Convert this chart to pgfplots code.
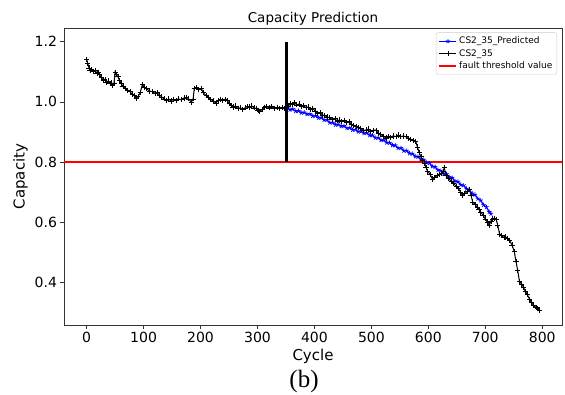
\documentclass[border=0pt]{standalone}
\usepackage{fontspec}
\setmainfont{DejaVu Sans}
\newfontfamily\capfont{Liberation Serif}
\usepackage{pgfplots}
\pgfplotsset{compat=1.18}
\begin{document}
\begin{tikzpicture}
\begin{axis}[
 scale only axis, width=498pt, height=297pt,
 xmin=-39.75, xmax=834.75, ymin=0.26, ymax=1.245,
 xtick={0,100,...,800}, ytick={0.4,0.6,0.8,1.0,1.2},
 yticklabels={0.4,0.6,0.8,1.0,1.2},
 /pgf/number format/assume math mode=true,
 tick align=outside, tick pos=left, major tick length=3.5pt,
 tick style={black!80, line width=0.6pt},
 ticklabel style={font=\fontsize{14}{16}\selectfont},
 xlabel={Cycle}, ylabel={Capacity},
 label style={font=\fontsize{15}{17}\selectfont},
 title={Capacity Prediction},
 title style={font=\fontsize{13.5}{15}\selectfont, at={(0.5,1)}, anchor=south, yshift=-7pt},
 axis line style={black!80, line width=0.6pt},
 legend style={at={(0.99,0.985)}, anchor=north east, draw=black!20, rounded corners=2pt,
   font=\fontsize{9}{11}\selectfont, inner sep=2.5pt},
 legend cell align=left,
]
\coordinate (bl) at (rel axis cs:0,0);
\coordinate (tr) at (rel axis cs:1,1);
\coordinate (bc) at (rel axis cs:0.5,0);
\addplot[draw=blue, line width=1.2pt, mark=star, mark size=2.3pt, mark options={draw=blue, fill=blue, line width=0.7pt}] coordinates {
(352,0.980)(357,0.974)(362,0.976)(367,0.969)(372,0.970)(377,0.964)(382,0.965)(387,0.959)(392,0.960)(397,0.953)
(402,0.954)(407,0.947)(412,0.948)(417,0.940)(422,0.940)(427,0.931)(432,0.931)(437,0.924)(442,0.925)(447,0.919)
(452,0.920)(457,0.913)(462,0.914)(467,0.907)(472,0.908)(477,0.901)(482,0.902)(487,0.896)(492,0.897)(497,0.889)
(502,0.889)(507,0.881)(512,0.881)(517,0.873)(522,0.873)(527,0.865)(532,0.864)(537,0.856)(542,0.856)(547,0.847)
(552,0.847)(557,0.838)(562,0.838)(567,0.829)(572,0.828)(577,0.819)(582,0.818)(587,0.809)(592,0.808)(597,0.799)
(602,0.797)(607,0.786)(612,0.784)(617,0.774)(622,0.772)(627,0.762)(632,0.761)(637,0.751)(642,0.748)(647,0.737)
(652,0.735)(657,0.725)(662,0.723)(667,0.712)(672,0.708)(677,0.696)(682,0.692)(687,0.679)(692,0.673)(697,0.658)
(702,0.651)(707,0.635)(710,0.629)};
\addlegendentry{CS2\_35\_Predicted}
\addplot[draw=black, line width=1pt, mark=+, mark size=2.6pt, mark options={draw=black, line width=0.7pt}] coordinates {
(0,1.140)(2,1.128)(4,1.112)(6,1.104)(9,1.108)(12,1.101)(15,1.103)(18,1.096)(21,1.098)(23,1.090)
(26,1.080)(29,1.072)(32,1.075)(35,1.066)(38,1.069)(41,1.060)(44,1.063)(46,1.054)(48,1.062)(50,1.098)
(52,1.090)(55,1.083)(58,1.070)(61,1.060)(64,1.050)(68,1.045)(72,1.038)(76,1.034)(80,1.026)(84,1.020)
(87,1.013)(90,1.017)(94,1.030)(98,1.058)(101,1.048)(105,1.045)(110,1.036)(115,1.034)(120,1.028)(124,1.030)
(128,1.023)(132,1.016)(136,1.010)(140,1.005)(144,1.010)(148,1.003)(152,1.008)(157,1.005)(161,1.010)(166,1.007)
(171,1.013)(175,1.015)(179,1.010)(184,0.999)(187,1.010)(189,1.044)(193,1.047)(197,1.042)(201,1.045)(205,1.030)
(210,1.020)(214,1.015)(218,1.008)(222,1.003)(227,0.996)(231,1.004)(235,1.008)(239,1.005)(243,1.008)(247,1.004)
(251,0.995)(254,0.988)(257,0.983)(261,0.986)(266,0.978)(270,0.980)(274,0.974)(278,0.980)(282,0.985)(286,0.983)
(290,0.986)(294,0.980)(298,0.978)(301,0.972)(304,0.967)(308,0.975)(312,0.982)(315,0.985)(320,0.980)(325,0.984)
(330,0.978)(335,0.982)(339,0.977)(343,0.981)(347,0.978)(350,0.983)(354,0.986)(358,0.994)(362,0.992)(365,0.997)
(369,0.990)(373,0.993)(377,0.985)(381,0.988)(385,0.981)(389,0.983)(393,0.976)(397,0.979)(401,0.970)(406,0.962)
(410,0.964)(414,0.956)(418,0.955)(422,0.950)(426,0.948)(432,0.941)(436,0.944)(440,0.937)(444,0.940)(448,0.934)
(452,0.938)(456,0.932)(461,0.934)(465,0.926)(469,0.921)(473,0.918)(477,0.914)(481,0.912)(486,0.905)(491,0.907)
(495,0.910)(499,0.903)(504,0.906)(508,0.906)(512,0.897)(516,0.893)(521,0.886)(526,0.880)(530,0.884)(534,0.881)
(538,0.887)(543,0.885)(547,0.890)(551,0.884)(556,0.887)(561,0.884)(565,0.878)(569,0.875)(573,0.871)(578,0.868)
(581,0.850)(584,0.832)(587,0.818)(590,0.805)(593,0.797)(596,0.782)(599,0.770)(603,0.760)(607,0.744)(611,0.750)
(615,0.755)(619,0.760)(623,0.762)(626,0.770)(628,0.782)(631,0.755)(635,0.745)(640,0.738)(644,0.730)(649,0.720)
(653,0.712)(657,0.700)(660,0.689)(664,0.695)(668,0.703)(672,0.710)(675,0.690)(678,0.668)(682,0.660)(686,0.650)
(689,0.643)(692,0.634)(696,0.625)(700,0.612)(704,0.600)(707,0.590)(710,0.605)(713,0.612)(716,0.614)(719,0.611)
(722,0.590)(725,0.562)(729,0.556)(733,0.550)(736,0.552)(739,0.546)(743,0.540)(747,0.525)(751,0.503)(754,0.470)
(757,0.440)(760,0.405)(764,0.395)(767,0.385)(771,0.370)(774,0.360)(778,0.345)(781,0.335)(785,0.325)(789,0.318)
(792,0.314)(795,0.310)};
\addlegendentry{CS2\_35}
\addplot[draw=red, line width=1.5pt] coordinates {(-60,0.8)(860,0.8)};
\addlegendentry{fault threshold value}
\addplot[draw=black, line width=3pt, forget plot] coordinates {(351,0.8)(351,1.2)};
\end{axis}
\node[font=\capfont\fontsize{25}{28}\selectfont] at ([shift={(-9pt,-56pt)}]bc) {(b)};
\pgfresetboundingbox
\path ([shift={(-64pt,-69pt)}]bl) rectangle ([shift={(3pt,28pt)}]tr);
\end{tikzpicture}
\end{document}
